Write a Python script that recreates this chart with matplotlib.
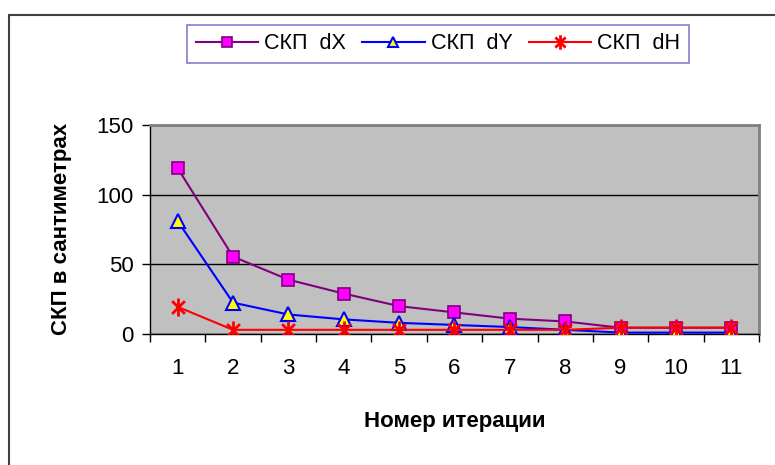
import numpy as np
import matplotlib
matplotlib.use("Agg")
import matplotlib.pyplot as plt
from matplotlib.path import Path
from matplotlib.patches import Rectangle

plt.rcParams['font.family'] = ['Liberation Sans', 'DejaVu Sans']

iterations = list(range(1, 12))
skp_dx = [119, 55.5, 39, 29, 20, 15.5, 11, 9, 4.5, 4.5, 4.5]
skp_dy = [81, 22.5, 14, 10.5, 8, 6.5, 5, 3, 1, 1, 1]
skp_dh = [19.5, 3, 3, 3, 3, 3, 3, 3, 4.5, 4.5, 4.5]
series_names = ['СКП  dX', 'СКП  dY', 'СКП  dH']
y_ticks = [0, 50, 100, 150]

# excel-like star marker: an "x" crossed by a vertical stroke
d = 0.7071
star = Path([(-d, -d), (d, d), (-d, d), (d, -d), (0, -1), (0, 1)],
            [Path.MOVETO, Path.LINETO, Path.MOVETO, Path.LINETO, Path.MOVETO, Path.LINETO])

W, H = 775, 465
fig = plt.figure(figsize=(W / 100, H / 100), dpi=100)

# outer chart frame
fig.patches.append(Rectangle((9 / W, -0.1), 1.2, 0.1 + (H - 15) / H, transform=fig.transFigure,
                             fill=False, edgecolor='#404040', linewidth=1.5))

ax = fig.add_axes([150 / W, (H - 334) / H, 609 / W, (334 - 125) / H])
ax.set_facecolor('#C0C0C0')

l1, = ax.plot(iterations, skp_dx, color='#800080', lw=1.5, marker='s', ms=8.5,
              mfc='#FF00FF', mec='#800080', mew=1.2, zorder=3)
l2, = ax.plot(iterations, skp_dy, color='#0000FF', lw=1.5, marker='^', ms=9.5,
              mfc='#FFFF00', mec='#0000FF', mew=1.5, zorder=4)
l3, = ax.plot(iterations, skp_dh, color='#FF0000', lw=1.5, marker=star, ms=13,
              mec='#FF0000', mew=2, zorder=5)

ax.set_xlim(0.5, 11.5)
ax.set_ylim(0, 150)
ax.set_yticks(y_ticks)
ax.yaxis.grid(True, color='black', lw=1)
ax.set_axisbelow(True)

# ticks between categories, labels centred on them
ax.set_xticks(np.arange(0.5, 12, 1))
ax.set_xticklabels([])
ax.set_xticks(iterations, minor=True)
ax.set_xticklabels([str(i) for i in iterations], minor=True)
ax.tick_params(axis='x', which='major', direction='out', length=6, width=1, color='black')
ax.tick_params(axis='x', which='minor', length=0, pad=17, labelsize=16)
ax.tick_params(axis='y', direction='out', length=6, width=1, pad=6, labelsize=16)

for s in ['top', 'right']:
    ax.spines[s].set_color('#808080')
    ax.spines[s].set_linewidth(2)
for s in ['left', 'bottom']:
    ax.spines[s].set_color('black')
    ax.spines[s].set_linewidth(1)

fig.text(455 / W, 1 - 421 / H, 'Номер итерации', ha='center', va='center',
         fontsize=16, fontweight='bold')
fig.text(62 / W, 1 - 229 / H, 'СКП в сантиметрах', ha='center', va='center',
         rotation=90, fontsize=16, fontweight='bold')

leg = fig.legend([l1, l2, l3], series_names, ncol=3, mode='expand',
                 loc='lower left',
                 bbox_to_anchor=(187 / W, 1 - 63 / H, (689 - 187) / W, 40 / H),
                 frameon=True, fancybox=False, fontsize=15.5, handlelength=2.9,
                 handletextpad=0.3, columnspacing=0.5, borderaxespad=0,
                 borderpad=0.4, markerscale=0.8)
leg.get_frame().set_edgecolor('#6060C0')
leg.get_frame().set_linewidth(1.2)

fig.savefig('out.png', dpi=100)
